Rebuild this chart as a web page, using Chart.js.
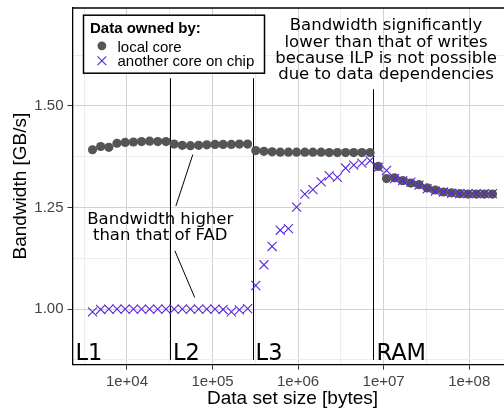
<!DOCTYPE html>
<html>
<head>
<meta charset="utf-8">
<script src="https://cdn.jsdelivr.net/npm/chart.js@4.4.1/dist/chart.umd.min.js"></script>
<style>
  html, body { margin: 0; padding: 0; background: #fff; overflow: hidden; }
  #wrap { width: 520px; height: 415px; }
</style>
</head>
<body>
<div id="wrap"><canvas id="c" width="520" height="415"></canvas></div>
<script>
/* ── Data ── */
const sizes = [3960, 4930, 6140, 7650, 9530, 11900, 14800, 18400, 22900, 28600,
               35600, 44300, 55200, 68800, 85700, 107000, 133000, 166000, 206000, 257000,
               320000, 399000, 497000, 619000, 771000, 961000, 1200000, 1490000, 1860000, 2310000,
               2880000, 3590000, 4470000, 5570000, 6940000, 8640000, 10800000, 13400000, 16700000, 20800000,
               25900000, 32300000, 40200000, 50100000, 62400000, 77700000, 96800000, 121000000, 150000000, 187000000];

const localCore = [1.392, 1.400, 1.398, 1.408, 1.410, 1.411, 1.412, 1.413, 1.412, 1.412,
                   1.406, 1.403, 1.402, 1.403, 1.404, 1.405, 1.405, 1.405, 1.406, 1.406,
                   1.390, 1.388, 1.387, 1.386, 1.386, 1.386, 1.386, 1.386, 1.386, 1.385,
                   1.385, 1.385, 1.385, 1.385, 1.385, 1.351, 1.321, 1.323, 1.316, 1.310,
                   1.306, 1.298, 1.293, 1.288, 1.286, 1.284, 1.283, 1.283, 1.283, 1.283];

const otherCore = [0.993, 0.999, 1.000, 1.000, 1.000, 1.000, 1.000, 1.000, 1.000, 1.000,
                   1.000, 1.000, 1.000, 1.000, 1.000, 1.000, 0.999, 0.993, 0.998, 1.001,
                   1.058, 1.109, 1.154, 1.194, 1.198, 1.251, 1.283, 1.294, 1.313, 1.328,
                   1.324, 1.347, 1.354, 1.359, 1.365, 1.349, 1.341, 1.321, 1.316, 1.312,
                   1.305, 1.296, 1.290, 1.288, 1.285, 1.284, 1.284, 1.284, 1.284, 1.284];

const xMajor      = [1e4, 1e5, 1e6, 1e7, 1e8];
const xTickLabels = ['1e+04', '1e+05', '1e+06', '1e+07', '1e+08'];
const xMinor      = [3162, 31623, 316228, 3162278, 31622777];
const yMajor      = [1.00, 1.25, 1.50];
const yMinor      = [0.875, 1.125, 1.375, 1.625];

const cacheBounds = [31800, 294000, 7590000];
const cacheLabels = ['L1', 'L2', 'L3', 'RAM'];

const legendTitle = 'Data owned by:';
const noteTop = ['Bandwidth significantly', 'lower than that of writes',
                 'because ILP is not possible', 'due to data dependencies'];
const noteMid = ['Bandwidth higher', 'than that of FAD'];

const GREY   = '#555555';
const PURPLE = '#5b28d6';
const SANS   = '"Liberation Sans", Arial, sans-serif';
const DEJAVU = '"DejaVu Sans", sans-serif';

/* ── Annotations (lines, labels, legend) ── */
const cacheLines = {
    id: 'cacheLines',
    beforeDatasetsDraw(chart) {
        const { ctx, scales: { x, y } } = chart;
        const tops = [1.568, 1.568, 1.541];
        ctx.save();
        ctx.strokeStyle = '#000';
        ctx.lineWidth = 1;
        cacheBounds.forEach((b, i) => {
            const px = Math.round(x.getPixelForValue(b)) + 0.5;
            ctx.beginPath();
            ctx.moveTo(px, y.getPixelForValue(tops[i]));
            ctx.lineTo(px, y.getPixelForValue(0.875));
            ctx.stroke();
        });
        ctx.restore();
    }
};

const notes = {
    id: 'notes',
    afterDatasetsDraw(chart) {
        const { ctx, chartArea: a, scales: { x, y } } = chart;
        ctx.save();

        // top frame
        ctx.strokeStyle = '#000';
        ctx.lineWidth = 1.3;
        ctx.beginPath();
        ctx.moveTo(a.left, a.top + 0.5);
        ctx.lineTo(a.right, a.top + 0.5);
        ctx.stroke();

        // cache level labels
        ctx.fillStyle = '#000';
        ctx.font = '22.5px ' + DEJAVU;
        ctx.textAlign = 'left';
        ctx.textBaseline = 'alphabetic';
        const base = y.getPixelForValue(0.875);
        cacheLabels.forEach((t, i) => {
            const px = i === 0 ? a.left + 3 : x.getPixelForValue(cacheBounds[i - 1]) + 3;
            ctx.fillText(t, px, base);
        });

        // annotation texts
        ctx.font = '16.5px ' + DEJAVU;
        ctx.textAlign = 'center';
        const topX = x.getPixelForValue(1.067e7);
        noteTop.forEach((t, i) => ctx.fillText(t, topX, 30.3 + i * 16.3));
        const midX = x.getPixelForValue(24500);
        noteMid.forEach((t, i) => ctx.fillText(t, midX, 223.7 + i * 16.3));

        // leader lines
        ctx.lineWidth = 1;
        [[58800, 1.380, 37300, 1.2534], [36300, 1.1433, 61900, 1.0286]].forEach(s => {
            ctx.beginPath();
            ctx.moveTo(x.getPixelForValue(s[0]), y.getPixelForValue(s[1]));
            ctx.lineTo(x.getPixelForValue(s[2]), y.getPixelForValue(s[3]));
            ctx.stroke();
        });

        // legend
        const lx = a.left + 11, ly = a.top + 7.7;
        ctx.fillStyle = '#fff';
        ctx.fillRect(lx, ly, 181, 58);
        ctx.strokeStyle = '#000';
        ctx.lineWidth = 1.5;
        ctx.strokeRect(lx, ly, 181, 58);
        ctx.fillStyle = '#000';
        ctx.textAlign = 'left';
        ctx.font = 'bold 15px ' + SANS;
        ctx.fillText(legendTitle, lx + 6.5, ly + 17.5);
        ctx.font = '15px ' + SANS;
        const ds = chart.data.datasets;
        ctx.fillText(ds[1].label, lx + 34, ly + 36.3);
        ctx.fillText(ds[0].label, lx + 34, ly + 51);

        ctx.fillStyle = GREY;
        ctx.beginPath();
        ctx.arc(lx + 18.4, ly + 30.6, 4.4, 0, Math.PI * 2);
        ctx.fill();
        ctx.strokeStyle = PURPLE;
        ctx.lineWidth = 1.1;
        const cx = lx + 18.4, cy = ly + 45.6, h = 4.4;
        ctx.beginPath();
        ctx.moveTo(cx - h, cy - h); ctx.lineTo(cx + h, cy + h);
        ctx.moveTo(cx - h, cy + h); ctx.lineTo(cx + h, cy - h);
        ctx.stroke();

        ctx.restore();
    }
};

/* ── Chart ── */
new Chart(document.getElementById('c'), {
    type: 'scatter',
    data: {
        datasets: [
            {
                label: 'another core on chip',
                data: sizes.map((s, i) => ({ x: s, y: otherCore[i] })),
                pointStyle: 'crossRot',
                pointRadius: 6.4,
                borderColor: PURPLE,
                borderWidth: 1.1,
                order: 0
            },
            {
                label: 'local core',
                data: sizes.map((s, i) => ({ x: s, y: localCore[i] })),
                pointStyle: 'circle',
                pointRadius: 4.6,
                backgroundColor: GREY,
                borderWidth: 0,
                order: 1
            }
        ]
    },
    options: {
        responsive: false,
        animation: false,
        events: [],
        layout: { padding: { left: 0, right: 5, top: 5, bottom: 0 } },
        plugins: { legend: { display: false }, tooltip: { enabled: false } },
        scales: {
            x: {
                type: 'logarithmic',
                min: 2310,
                max: 3.205e8,
                afterBuildTicks: s => { s.ticks = [...xMinor, ...xMajor].sort((a, b) => a - b).map(v => ({ value: v })); },
                afterFit: s => { s.height = 50.3; s.paddingLeft = 0; s.paddingRight = 0; },
                ticks: {
                    autoSkip: false,
                    maxRotation: 0,
                    padding: 3,
                    color: '#444',
                    font: { family: SANS, size: 15 },
                    callback: v => { const i = xMajor.indexOf(v); return i < 0 ? '' : xTickLabels[i]; }
                },
                grid: {
                    color: c => xMajor.includes(c.tick && c.tick.value) ? '#d2d2d2' : '#ededed',
                    tickColor: c => xMajor.includes(c.tick && c.tick.value) ? '#333' : 'rgba(0,0,0,0)',
                    tickLength: 5
                },
                border: { display: true, color: '#000', width: 1.3 },
                title: { display: true, text: 'Data set size [bytes]', color: '#000',
                         font: { family: SANS, size: 19 }, padding: { bottom: 5, top: 0 } }
            },
            y: {
                min: 0.8631,
                max: 1.742,
                afterBuildTicks: s => { s.ticks = [...yMinor, ...yMajor].sort((a, b) => a - b).map(v => ({ value: v })); },
                afterFit: s => { s.width = 72.5; s.paddingTop = 0; s.paddingBottom = 0; },
                ticks: {
                    autoSkip: false,
                    padding: 4,
                    color: '#444',
                    font: { family: SANS, size: 15 },
                    callback: v => yMajor.includes(v) ? v.toFixed(2) : ''
                },
                grid: {
                    color: c => yMajor.includes(c.tick && c.tick.value) ? '#d2d2d2' : '#ededed',
                    tickColor: c => yMajor.includes(c.tick && c.tick.value) ? '#333' : 'rgba(0,0,0,0)',
                    tickLength: 5
                },
                border: { display: true, color: '#000', width: 1.3 },
                title: { display: true, text: 'Bandwidth [GB/s]', color: '#000',
                         font: { family: SANS, size: 19 }, padding: { top: 9.6, bottom: 0 } }
            }
        }
    },
    plugins: [cacheLines, notes]
});
</script>
</body>
</html>
